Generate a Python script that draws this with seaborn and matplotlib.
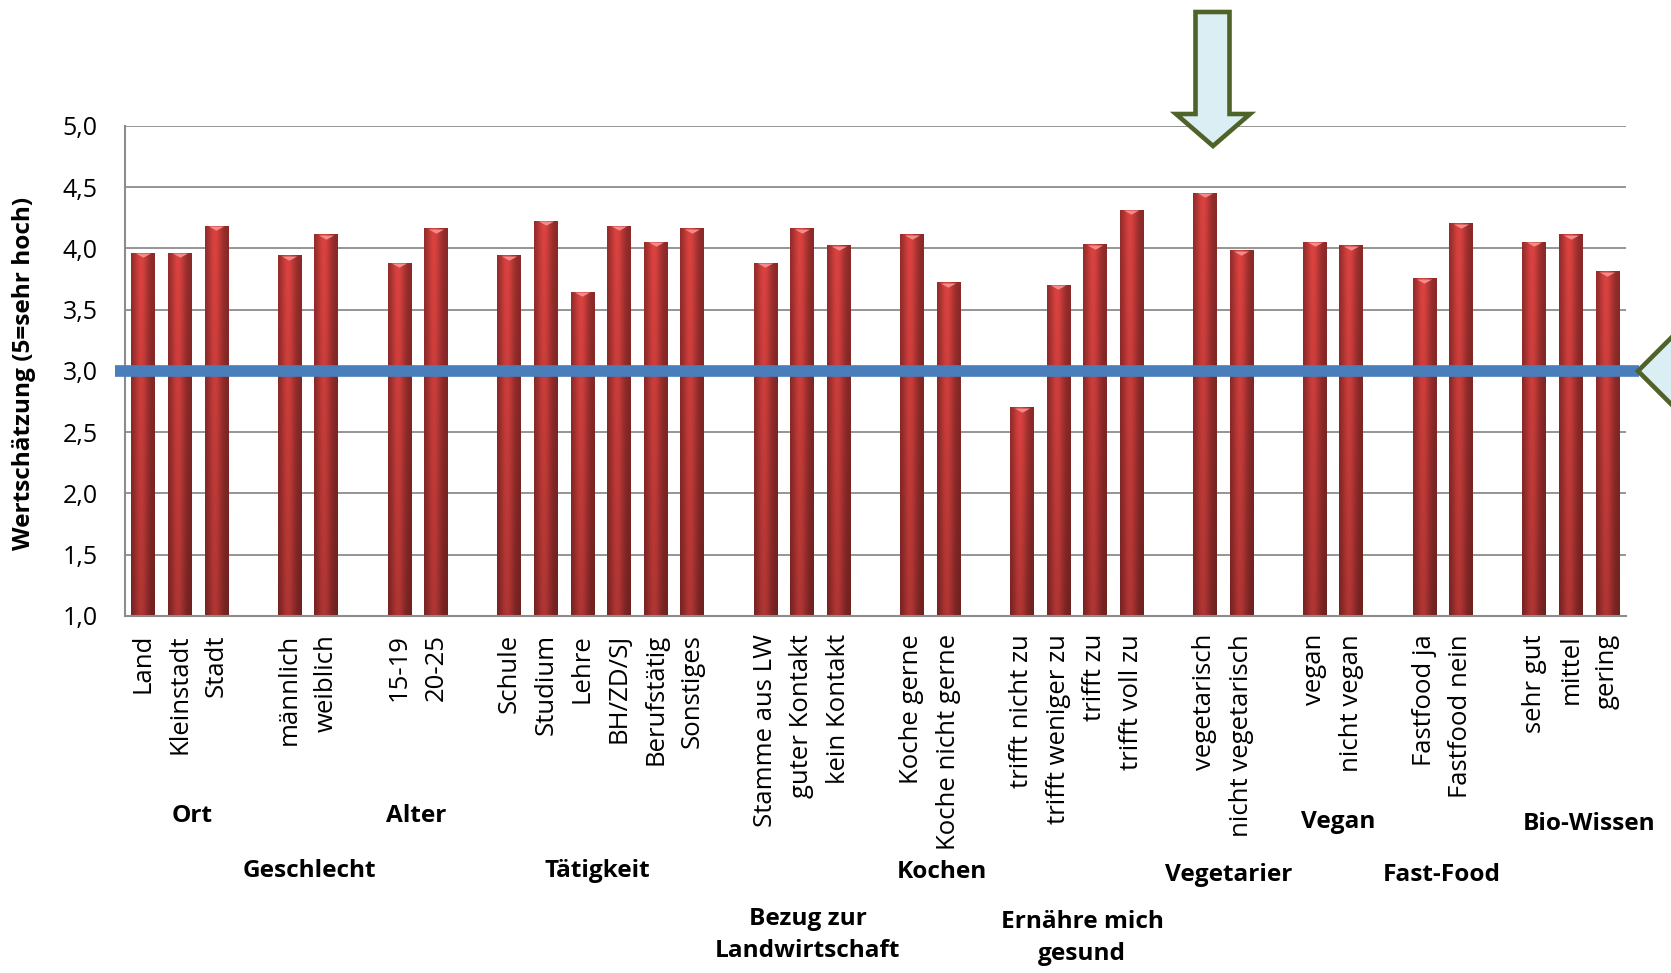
import numpy as np
import pandas as pd
import matplotlib
matplotlib.use("Agg")
import matplotlib.pyplot as plt
import seaborn as sns
from matplotlib.patches import Polygon
from matplotlib.transforms import blended_transform_factory

# ---------------- data ----------------
group_names = ["Ort", "Geschlecht", "Alter", "Tätigkeit", "Bezug zur\nLandwirtschaft",
               "Kochen", "Ernähre mich\ngesund", "Vegetarier", "Vegan", "Fast-Food", "Bio-Wissen"]

ort_labels = ["Land", "Kleinstadt", "Stadt"]
ort_values = [3.96, 3.96, 4.18]
geschlecht_labels = ["männlich", "weiblich"]
geschlecht_values = [3.94, 4.11]
alter_labels = ["15-19", "20-25"]
alter_values = [3.88, 4.16]
taetigkeit_labels = ["Schule", "Studium", "Lehre", "BH/ZD/SJ", "Berufstätig", "Sonstiges"]
taetigkeit_values = [3.94, 4.22, 3.64, 4.18, 4.05, 4.16]
bezug_labels = ["Stamme aus LW", "guter Kontakt", "kein Kontakt"]
bezug_values = [3.88, 4.16, 4.02]
kochen_labels = ["Koche gerne", "Koche nicht gerne"]
kochen_values = [4.11, 3.72]
ernaehrung_labels = ["trifft nicht zu", "trifft weniger zu", "trifft zu", "trifft voll zu"]
ernaehrung_values = [2.70, 3.70, 4.03, 4.31]
vegetarier_labels = ["vegetarisch", "nicht vegetarisch"]
vegetarier_values = [4.45, 3.98]
vegan_labels = ["vegan", "nicht vegan"]
vegan_values = [4.05, 4.02]
fastfood_labels = ["Fastfood ja", "Fastfood nein"]
fastfood_values = [3.75, 4.20]
bio_labels = ["sehr gut", "mittel", "gering"]
bio_values = [4.05, 4.11, 3.81]

reference_value = 3.0
y_ticks = [1.0, 1.5, 2.0, 2.5, 3.0, 3.5, 4.0, 4.5, 5.0]
y_tick_labels = ["1,0", "1,5", "2,0", "2,5", "3,0", "3,5", "4,0", "4,5", "5,0"]
y_axis_label = "Wertschätzung (5=sehr hoch)"

group_labels = [ort_labels, geschlecht_labels, alter_labels, taetigkeit_labels, bezug_labels,
                kochen_labels, ernaehrung_labels, vegetarier_labels, vegan_labels,
                fastfood_labels, bio_labels]
group_values = [ort_values, geschlecht_values, alter_values, taetigkeit_values, bezug_values,
                kochen_values, ernaehrung_values, vegetarier_values, vegan_values,
                fastfood_values, bio_values]

# layout of the group captions (x offset from group centre in slots, y in figure pixels)
caption_dx = [0.34, 0.04, -0.04, -0.1, 0.16, 0.33, 0.15, 0.15, 0.15, -0.02, 0.5]
caption_ypx = [816, 871, 816, 871, 935, 872, 938, 875, 822, 875, 824]

# ---------------- build table ----------------
rows = []
group_centres = []
slot = 0
for gi, (labs, vals) in enumerate(zip(group_labels, group_values)):
    if gi > 0:
        rows.append({"label": " " * gi, "value": np.nan})
        slot += 1
    start = slot
    for lab, val in zip(labs, vals):
        rows.append({"label": lab, "value": val})
        slot += 1
    group_centres.append((start + slot - 1) / 2)
df = pd.DataFrame(rows)
order = list(df["label"])

# ---------------- figure ----------------
sns.set_theme(style="white")
plt.rcParams["font.family"] = ["Open Sans", "DejaVu Sans"]

W, H = 1671, 973
fig = plt.figure(figsize=(W / 100, H / 100), dpi=100)
ax = fig.add_axes([124.7 / W, 1 - 616 / H, 1501 / W, (616 - 125.8) / H])

sns.barplot(data=df.dropna(), x="label", y="value", order=order, color="#c43a38",
            saturation=1, width=0.64, errorbar=None, ax=ax, zorder=2)

ax.set_ylim(1.0, 5.0)
ax.set_xlim(-0.5, len(order) - 0.5)
y_floor = ax.get_ylim()[0]

# cylinder-like shading for every bar
u = np.linspace(0, 1, 64)
prof = 0.62 + 0.38 * np.exp(-((u - 0.42) / 0.30) ** 2)
v = np.linspace(0, 1, 64)
vert = 0.80 + 0.20 * v
base = np.array([0.86, 0.26, 0.25])
grad = np.clip(base[None, None, :] * prof[None, :, None] * vert[:, None, None], 0, 1)

for p in list(ax.patches):
    h = p.get_height()
    if not np.isfinite(h) or h == 0:
        continue
    x0, w, y0 = p.get_x(), p.get_width(), p.get_y()
    top = y0 + h
    p.set_edgecolor("none")
    ax.imshow(grad, extent=[x0, x0 + w, max(y0, y_floor), top], origin="lower",
              aspect="auto", interpolation="bilinear", zorder=2.1)

# light cap on top of each bar
valid = df.reset_index(drop=True)
pos = np.arange(len(valid))
mask = valid["value"].notna().to_numpy()
cap = [(-1, 0), (1, 0), (0, -0.55)]
ax.plot(pos[mask], valid["value"].to_numpy()[mask], linestyle="none", marker=cap,
        markersize=11, color="#f28c8a", markeredgewidth=0, zorder=2.5)

# reference line
tr_ax = blended_transform_factory(ax.transAxes, ax.transData)
ax.plot([-0.0065, 1.009], [reference_value, reference_value], transform=tr_ax,
        color="#4a7ebb", lw=8.4, solid_capstyle="butt", clip_on=False, zorder=5)

# axes styling
ax.set_ylim(1.0, 5.0)
ax.set_xlim(-0.5, len(order) - 0.5)
ax.set_yticks(y_ticks)
ax.set_yticklabels(y_tick_labels, fontsize=18, color="black")
ax.set_xticks(np.arange(len(order)))
ax.set_xticklabels(order, rotation=90, fontsize=18.5, color="black")
ax.set_xticks(np.arange(-0.5, len(order), 1), minor=True)
ax.tick_params(axis="x", which="major", length=0, pad=13)
ax.tick_params(axis="x", which="minor", length=5.8, width=1.3, color="#8c8c8c", direction="out")
ax.tick_params(axis="y", length=6.5, width=1.3, color="#8c8c8c", direction="out", pad=13)
ax.yaxis.grid(True, color="#8c8c8c", lw=1.3)
ax.xaxis.grid(False)
ax.set_axisbelow(True)
for s in ["top", "right"]:
    ax.spines[s].set_visible(False)
for s in ["left", "bottom"]:
    ax.spines[s].set_color("#8c8c8c")
    ax.spines[s].set_linewidth(1.5)
ax.set_xlabel("")
ax.set_ylabel("")

fig.text(24 / W, 1 - 373 / H, y_axis_label, rotation=90, ha="center", va="center",
         fontsize=17.6, fontweight="bold", color="black")

# group captions
tr_cap = blended_transform_factory(ax.transData, fig.transFigure)
for name, cx, dx, ypx in zip(group_names, group_centres, caption_dx, caption_ypx):
    ax.text(cx + dx, 1 - ypx / H, name, transform=tr_cap, ha="center", va="center",
            fontsize=17.6, fontweight="bold", color="black", linespacing=1.45, clip_on=False)

# arrows
def px(pts):
    return [(x / W, 1 - y / H) for x, y in pts]

down_arrow = px([(1195.5, 12), (1229.5, 12), (1229.5, 114), (1250, 114), (1213, 146),
                 (1176, 114), (1195.5, 114)])
fig.add_artist(Polygon(down_arrow, closed=True, transform=fig.transFigure,
                       facecolor="#dbeef4", edgecolor="#4f6228", lw=3.3, joinstyle="miter",
                       zorder=10))
left_arrow = px([(1638, 371), (1710, 299), (1710, 443)])
fig.add_artist(Polygon(left_arrow, closed=True, transform=fig.transFigure,
                       facecolor="#dbeef4", edgecolor="#4f6228", lw=3.3, joinstyle="miter",
                       zorder=10))

fig.savefig("out.png", dpi=100, facecolor="white")
